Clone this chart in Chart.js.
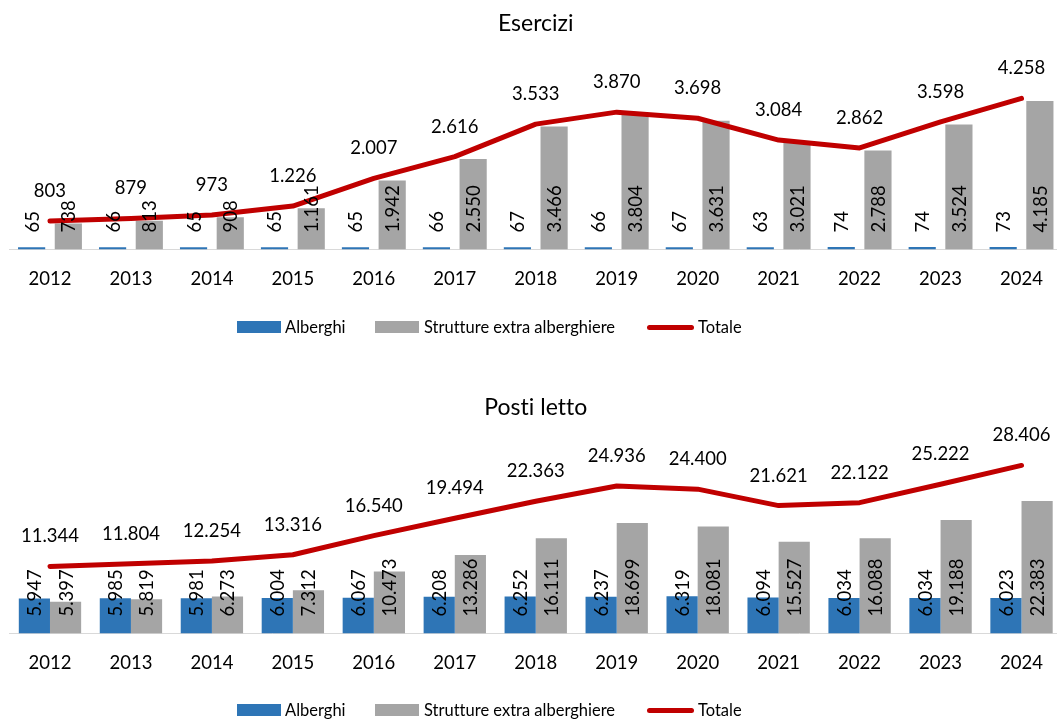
<!DOCTYPE html>
<html>
<head>
<meta charset="utf-8">
<script src="https://cdn.jsdelivr.net/npm/chart.js@4.4.1/dist/chart.umd.min.js"></script>
<style>
  body { margin: 0; background: #fff; overflow: hidden; font-family: Lato, sans-serif; font-variant-ligatures: none; }
  .wrap { position: absolute; left: 0; width: 1062px; height: 320px; }
  .legend { position: absolute; left: 0; width: 1057px; height: 20px; font-size: 16.5px; color: #000; }
  .legend span { position: absolute; }
  .box { height: 12px; width: 44px; }
  .lline { height: 5px; width: 47px; border-radius: 3px; background: #C00000; }
  .txt { line-height: 20px; white-space: nowrap; }
</style>
</head>
<body>
<div class="wrap" style="top:0px"><canvas id="esercizi" width="1062" height="320"></canvas></div>
<div class="legend" style="top:317px">
  <span class="box" style="left:237px;top:4px;background:#2E75B6"></span><span class="txt" style="left:285px;top:0">Alberghi</span>
  <span class="box" style="left:375px;top:4px;background:#A5A5A5"></span><span class="txt" style="left:424px;top:0">Strutture extra alberghiere</span>
  <span class="lline" style="left:647px;top:8px"></span><span class="txt" style="left:698px;top:0">Totale</span>
</div>
<div class="wrap" style="top:384px"><canvas id="posti" width="1062" height="320"></canvas></div>
<div class="legend" style="top:700px">
  <span class="box" style="left:237px;top:4px;background:#2E75B6"></span><span class="txt" style="left:285px;top:0">Alberghi</span>
  <span class="box" style="left:375px;top:4px;background:#A5A5A5"></span><span class="txt" style="left:424px;top:0">Strutture extra alberghiere</span>
  <span class="lline" style="left:647px;top:8px"></span><span class="txt" style="left:698px;top:0">Totale</span>
</div>
<script>
// data
const years = ['2012', '2013', '2014', '2015', '2016', '2017', '2018', '2019', '2020', '2021', '2022', '2023', '2024'];

const eserciziAlberghi = [65, 66, 65, 65, 65, 66, 67, 66, 67, 63, 74, 74, 73];
const eserciziExtra = [738, 813, 908, 1161, 1942, 2550, 3466, 3804, 3631, 3021, 2788, 3524, 4185];
const eserciziTotale = [803, 879, 973, 1226, 2007, 2616, 3533, 3870, 3698, 3084, 2862, 3598, 4258];

const postiAlberghi = [5947, 5985, 5981, 6004, 6067, 6208, 6252, 6237, 6319, 6094, 6034, 6034, 6023];
const postiExtra = [5397, 5819, 6273, 7312, 10473, 13286, 16111, 18699, 18081, 15527, 16088, 19188, 22383];
const postiTotale = [11344, 11804, 12254, 13316, 16540, 19494, 22363, 24936, 24400, 21621, 22122, 25222, 28406];

Chart.defaults.font.family = 'Lato';
Chart.defaults.color = '#000';

// italian thousands separator
const fmt = v => String(v).replace(/\B(?=(\d{3})+(?!\d))/g, '.');

// no "ti" ligature in canvas text
const noLigatures = {
    id: 'noLigatures',
    beforeDraw(chart) {
        chart.ctx.letterSpacing = '0.01px';
    }
};

// value labels: rotated inside the bars, horizontal above the line
const valueLabels = {
    id: 'valueLabels',
    afterDatasetsDraw(chart) {
        const ctx = chart.ctx;
        ctx.save();
        ctx.font = '18.5px Lato';
        ctx.fillStyle = '#000';
        chart.data.datasets.forEach((ds, i) => {
            const meta = chart.getDatasetMeta(i);
            meta.data.forEach((el, j) => {
                const txt = fmt(ds.data[j]);
                if (ds.type === 'line') {
                    ctx.textAlign = 'center';
                    ctx.textBaseline = 'middle';
                    ctx.fillText(txt, el.x, el.y - 30);
                } else {
                    ctx.save();
                    ctx.translate(el.x + 1, el.base - 17);
                    ctx.rotate(-Math.PI / 2);
                    ctx.textAlign = 'left';
                    ctx.textBaseline = 'middle';
                    ctx.fillText(txt, 0, 0);
                    ctx.restore();
                }
            });
        });
        ctx.restore();
    }
};

function makeChart(id, title, alb, extra, tot, max, catPct, barPct) {
    const ctx = document.getElementById(id).getContext('2d');
    return new Chart(ctx, {
        type: 'bar',
        data: {
            labels: years,
            datasets: [
                {
                    label: 'Alberghi',
                    data: alb,
                    backgroundColor: '#2E75B6',
                    categoryPercentage: catPct,
                    barPercentage: barPct,
                    order: 1
                },
                {
                    label: 'Strutture extra alberghiere',
                    data: extra,
                    backgroundColor: '#A5A5A5',
                    categoryPercentage: catPct,
                    barPercentage: barPct,
                    order: 1
                },
                {
                    type: 'line',
                    label: 'Totale',
                    data: tot,
                    borderColor: '#C00000',
                    backgroundColor: '#C00000',
                    borderWidth: 5,
                    tension: 0,
                    pointRadius: 0,
                    borderCapStyle: 'round',
                    borderJoinStyle: 'round',
                    order: 0
                }
            ]
        },
        options: {
            responsive: false,
            animation: false,
            layout: { padding: { left: 9.5, right: 0, top: 0, bottom: 11.4 } },
            plugins: {
                legend: { display: false },
                tooltip: { enabled: false },
                title: {
                    display: true,
                    text: title,
                    font: { size: 23, weight: 'normal' },
                    padding: { top: 9.7, bottom: 34.7 }
                }
            },
            scales: {
                x: {
                    grid: { display: false, drawTicks: false },
                    border: { display: true, color: '#D9D9D9', width: 1 },
                    ticks: { font: { size: 18.5 }, padding: 18.4, maxRotation: 0 }
                },
                y: {
                    display: false,
                    min: 0,
                    max: max
                }
            }
        },
        plugins: [noLigatures, valueLabels]
    });
}

makeChart('esercizi', 'Esercizi', eserciziAlberghi, eserciziExtra, eserciziTotale, 5000, 0.907, 0.74);
makeChart('posti', 'Posti letto', postiAlberghi, postiExtra, postiTotale, 30000, 0.77, 1.0);
</script>
</body>
</html>
